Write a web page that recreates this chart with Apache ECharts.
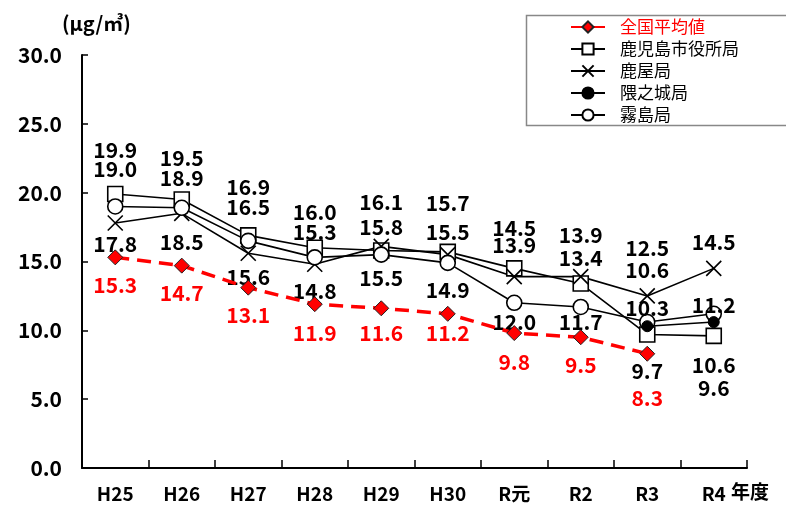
<!DOCTYPE html>
<html><head><meta charset="utf-8">
<script src="https://cdn.jsdelivr.net/npm/echarts@6/dist/echarts.min.js"></script>
<style>html,body{margin:0;padding:0;background:#fff}#c{width:786px;height:509px}</style>
</head><body><div id="c"></div>
<script>
// ---- data ----
const categories = ['H25','H26','H27','H28','H29','H30','R元','R2','R3','R4'];
const seriesNames = ['全国平均値','鹿児島市役所局','鹿屋局','隈之城局','霧島局'];
const national     = [15.3,14.7,13.1,11.9,11.6,11.2,9.8,9.5,8.3,null];
const kagoshimaCity= [19.9,19.5,16.9,16.0,15.8,15.7,14.5,13.4,9.7,9.6];
const kanoya       = [17.8,18.5,15.6,14.8,16.1,15.5,13.9,13.9,12.5,14.5];
const kumanojo     = [null,null,null,null,null,null,null,null,10.3,10.6];
const kirishima    = [19.0,18.9,16.5,15.3,15.5,14.9,12.0,11.7,10.6,11.2];
const yMin = 0, yMax = 30, yStep = 5;
const unitLabel = '(μg/㎥)';
const xUnitLabel = '年度';

// ---- label placement (vertical offsets, px) ----
const offNational  = [28,27,27,29,25,19,29,28,44,0];
const offCity      = [-44,-42,-48,-36,-23,-49,-40,-26,37,52];
const offKanoya    = [21,29,24,27,-44,-23,-32,-42,-48,-26];
const offKumanojo  = [0,0,0,0,0,0,0,0,-18,43];
const offKirishima = [-37,-30,-34,-25,23,27,19,15,-52,-9];

const FONT = '"Noto Sans CJK JP", "Noto Sans", sans-serif';

function build(vals, offs) {
  return vals.map((v, i) => v == null ? null : ({
    value: v,
    label: { offset: [0, offs[i]] }
  }));
}
function lbl(color) {
  return {
    show: true, position: 'inside', color: color,
    fontFamily: FONT, fontWeight: 'bold', fontSize: 21,
    formatter: p => p.value.toFixed(1)
  };
}
const blackLine = { color: '#000', width: 1.6 };

const chart = echarts.init(document.getElementById('c'), null, { renderer: 'canvas' });
chart.setOption({
  animation: false,
  backgroundColor: '#fff',
  grid: { left: 82, right: 39, top: 55, bottom: 41, containLabel: false },
  legend: {
    orient: 'vertical', left: 526, top: 15,
    padding: [1, 20, 1, 44],
    itemGap: 0, itemWidth: 34, itemHeight: 14,
    borderWidth: 0, backgroundColor: 'transparent',
    textStyle: { fontFamily: FONT, fontSize: 17, lineHeight: 22, color: '#000', padding: [0,0,0,10] },
    data: seriesNames.map((n, i) => ({ name: n, textStyle: i === 0 ? { color: '#ff0000' } : {} }))
  },
  graphic: [
    { type: 'rect', z: 1, shape: { x: 526.5, y: 15.5, width: 300, height: 110 },
      style: { fill: '#fff', stroke: '#888', lineWidth: 1.5 } },
    { type: 'text', left: 62, top: 13, style: { text: unitLabel, font: 'bold 20px ' + FONT, fill: '#000' } },
    { type: 'text', left: 731, top: 482, style: { text: xUnitLabel, font: 'bold 19px ' + FONT, fill: '#000' } }
  ],
  xAxis: {
    type: 'category', data: categories, boundaryGap: true,
    axisLine: { lineStyle: { color: '#000', width: 2 } },
    axisTick: { show: true, inside: true, length: 8, lineStyle: { color: '#000', width: 1.5 } },
    axisLabel: { color: '#000', fontFamily: FONT, fontWeight: 'bold', fontSize: 19, margin: 16 },
    splitLine: { show: false }
  },
  yAxis: {
    type: 'value', min: yMin, max: yMax, interval: yStep,
    axisLine: { show: true, lineStyle: { color: '#000', width: 2 } },
    axisTick: { show: true, inside: true, length: 6, lineStyle: { color: '#000', width: 1.5 } },
    axisLabel: { color: '#000', fontFamily: FONT, fontWeight: 'bold', fontSize: 21, margin: 20,
                 formatter: v => v.toFixed(1) },
    splitLine: { show: false }
  },
  series: [
    {
      name: seriesNames[0], type: 'line', z: 5,
      data: build(national, offNational),
      symbol: 'diamond', symbolSize: 15,
      lineStyle: { color: '#ff0000', width: 3.5, type: [14, 8] },
      itemStyle: { color: '#ff0000', borderColor: '#222', borderWidth: 1 },
      label: lbl('#ff0000')
    },
    {
      name: seriesNames[1], type: 'line', z: 3,
      data: build(kagoshimaCity, offCity),
      symbol: 'rect', symbolSize: 15,
      lineStyle: blackLine,
      itemStyle: { color: '#fff', borderColor: '#000', borderWidth: 1.6 },
      label: lbl('#000')
    },
    {
      name: seriesNames[2], type: 'line', z: 3,
      data: build(kanoya, offKanoya),
      symbol: 'path://M0,0L20,20M20,0L0,20', symbolSize: 15,
      lineStyle: blackLine,
      itemStyle: { color: '#000', borderColor: '#000', borderWidth: 1.6 },
      label: lbl('#000')
    },
    {
      name: seriesNames[3], type: 'line', z: 4,
      data: build(kumanojo, offKumanojo),
      symbol: 'circle', symbolSize: 11,
      lineStyle: blackLine,
      itemStyle: { color: '#000', borderColor: '#000', borderWidth: 1 },
      label: lbl('#000')
    },
    {
      name: seriesNames[4], type: 'line', z: 3,
      data: build(kirishima, offKirishima),
      symbol: 'circle', symbolSize: 15,
      lineStyle: blackLine,
      itemStyle: { color: '#fff', borderColor: '#000', borderWidth: 1.6 },
      label: lbl('#000')
    }
  ]
});
</script></body></html>
